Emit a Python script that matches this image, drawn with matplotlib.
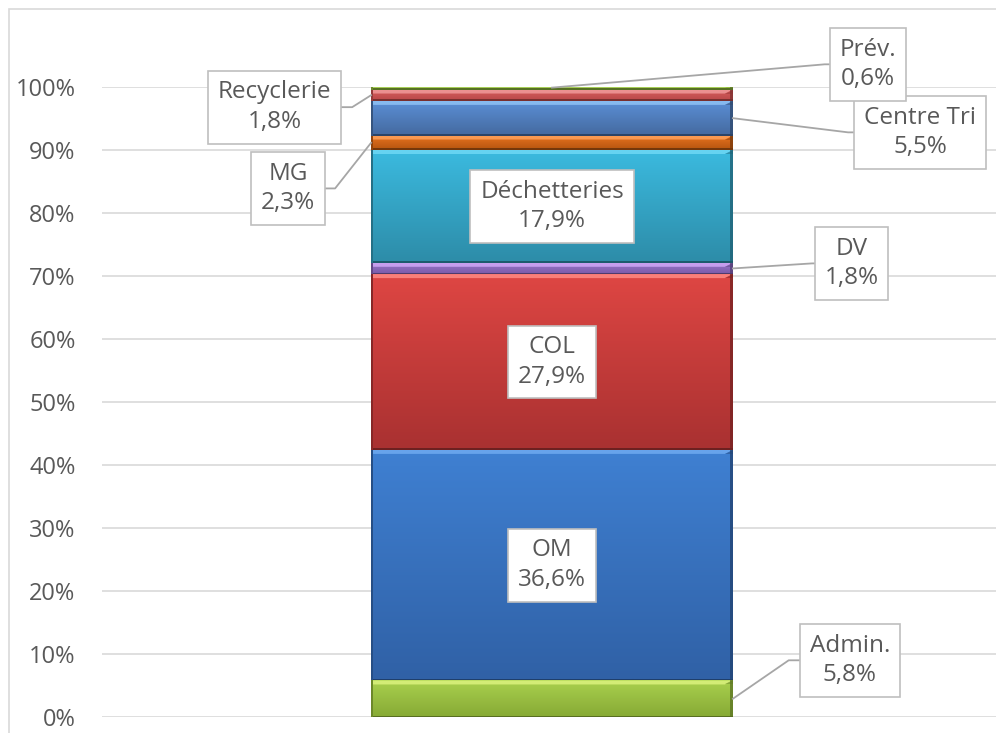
import matplotlib.pyplot as plt
import numpy as np
from matplotlib.patches import Rectangle, Polygon
from matplotlib.colors import to_rgb

# Data (stacked 100% column, bottom to top)
categories = ["Admin.", "OM", "COL", "DV", "Déchetteries", "MG", "Centre Tri", "Recyclerie", "Prév."]
shares = [5.8, 36.6, 27.9, 1.8, 17.9, 2.3, 5.5, 1.8, 0.6]
y_ticks = [0, 10, 20, 30, 40, 50, 60, 70, 80, 90, 100]
tick_labels = [f"{t}%" for t in y_ticks]

# Colours: (light top, dark bottom, highlight)
seg_colors = {
    "Admin.": ("#a9d04e", "#87aa35", "#dcf27e"),
    "OM": ("#3f80d2", "#3061a6", "#6faaf0"),
    "COL": ("#de4643", "#a93131", "#ff8a84"),
    "DV": ("#9b78cc", "#7a5aa8", "#cfa6f5"),
    "Déchetteries": ("#3bbadf", "#2d8ca8", "#6fd8f5"),
    "MG": ("#ea7420", "#b4540f", "#ffa15a"),
    "Centre Tri": ("#5b8fd6", "#44699e", "#8fc2f5"),
    "Recyclerie": ("#d85e5e", "#b84848", "#f09a9a"),
    "Prév.": ("#9fca4c", "#86ad37", "#c8ea7a"),
}

# label placement (data coords): label centre, elbow point, anchor side
inside = {"OM", "COL", "Déchetteries"}
label_place = {
    "Prév.": ((0.351, 103.6), (0.303, 103.6), "center"),
    "Centre Tri": ((0.409, 92.8), (0.329, 92.8), "right"),
    "Recyclerie": ((-0.308, 96.8), (-0.222, 96.8), "left"),
    "MG": ((-0.293, 83.9), (-0.241, 83.9), "left"),
    "DV": ((0.333, 72.0), (0.289, 72.0), "right"),
    "Admin.": ((0.331, 9.0), (0.263, 9.0), "right"),
}

text_color = "#595959"
grid_color = "#d9d9d9"
font = ["Open Sans", "DejaVu Sans"]

fig = plt.figure(figsize=(9.96, 7.33), dpi=100)
ax = fig.add_axes([102 / 996, 16 / 733, 900 / 996, 630 / 733])

# outer chart border
fig.patches.append(Rectangle((9 / 996, -0.5), 2, 1 - 9 / 733 + 0.5, transform=fig.transFigure,
                             fill=False, edgecolor=grid_color, lw=1.2))

bar_w = 0.402
bottoms = np.concatenate([[0], np.cumsum(shares)[:-1]])
bars = ax.bar([0] * len(shares), shares, bottom=bottoms, width=bar_w,
              color=[seg_colors[c][0] for c in categories], edgecolor="none", zorder=2)

px_y = 100 / 630  # one pixel in data units (y)
px_x = 1 / 900    # one pixel in data units (x)

for cat, rect in zip(categories, bars):
    x0, y0 = rect.get_x(), rect.get_y()
    x1, y1 = x0 + rect.get_width(), y0 + rect.get_height()
    h = y1 - y0
    top, bot, hi = (np.array(to_rgb(c)) for c in seg_colors[cat])
    g = np.linspace(0, 1, 60)[:, None, None]
    img = top * (1 - g) + bot * g
    ax.imshow(img, extent=(x0, x1, y0, y1), aspect="auto", origin="upper",
              interpolation="bilinear", zorder=2.1)
    by = min(4 * px_y, h * 0.45)
    bx = 8 * px_x
    # top bevel highlight
    ax.add_patch(Polygon([(x0, y1), (x1, y1), (x1 - bx, y1 - by), (x0 + 2 * px_x, y1 - by)],
                         closed=True, facecolor=hi, edgecolor="none", alpha=0.85, zorder=2.2))
    # small dark corner triangle at the top right
    ax.add_patch(Polygon([(x1, y1), (x1, y1 - by), (x1 - bx, y1 - by)],
                         closed=True, facecolor=bot * 0.85, edgecolor="none", alpha=0.6, zorder=2.2))
    # right dark edge
    ax.add_patch(Rectangle((x1 - 2.5 * px_x, y0), 2.5 * px_x, h, facecolor=bot * 0.7,
                           edgecolor="none", alpha=0.8, zorder=2.3))
    # bottom dark edge
    ax.add_patch(Rectangle((x0, y0), x1 - x0, min(1.5 * px_y, h * 0.3),
                           facecolor=bot * 0.65, edgecolor="none", zorder=2.3))
    # left edge shading
    ax.add_patch(Rectangle((x0, y0), 1.5 * px_x, h, facecolor=bot * 0.8,
                           edgecolor="none", zorder=2.3))

box = dict(boxstyle="square,pad=0.4", facecolor="white", edgecolor="#bfbfbf", lw=1.2)

for cat, share, rect in zip(categories, shares, bars):
    txt = f"{cat}\n" + f"{share:.1f}%".replace(".", ",")
    x0 = rect.get_x()
    x1 = x0 + rect.get_width()
    ymid = rect.get_y() + rect.get_height() / 2
    if cat in inside:
        ax.text(0, ymid, txt, ha="center", va="center", fontsize=17.5, family=font,
                color=text_color, bbox=box, zorder=5, linespacing=1.3)
        continue
    (lx, ly), (ex, ey), side = label_place[cat]
    ax_x = {"left": x0, "right": x1, "center": 0.0}[side]
    ax.plot([ax_x, ex, lx], [ymid, ey, ly], color="#a6a6a6", lw=1.3, zorder=4, clip_on=False)
    ax.text(lx, ly, txt, ha="center", va="center", fontsize=17.5, family=font,
            color=text_color, bbox=box, zorder=5, linespacing=1.3, clip_on=False)

ax.set_xlim(-0.5, 0.5)
ax.set_ylim(0, 100)
ax.set_yticks(y_ticks)
ax.set_yticklabels(tick_labels, family=font, fontsize=17, color=text_color)
ax.set_xticks([])
ax.tick_params(axis="y", length=0, pad=19)
ax.yaxis.grid(True, color=grid_color, lw=1.2)
ax.set_axisbelow(True)
for s in ax.spines.values():
    s.set_visible(False)

fig.savefig("out.png", dpi=100)
